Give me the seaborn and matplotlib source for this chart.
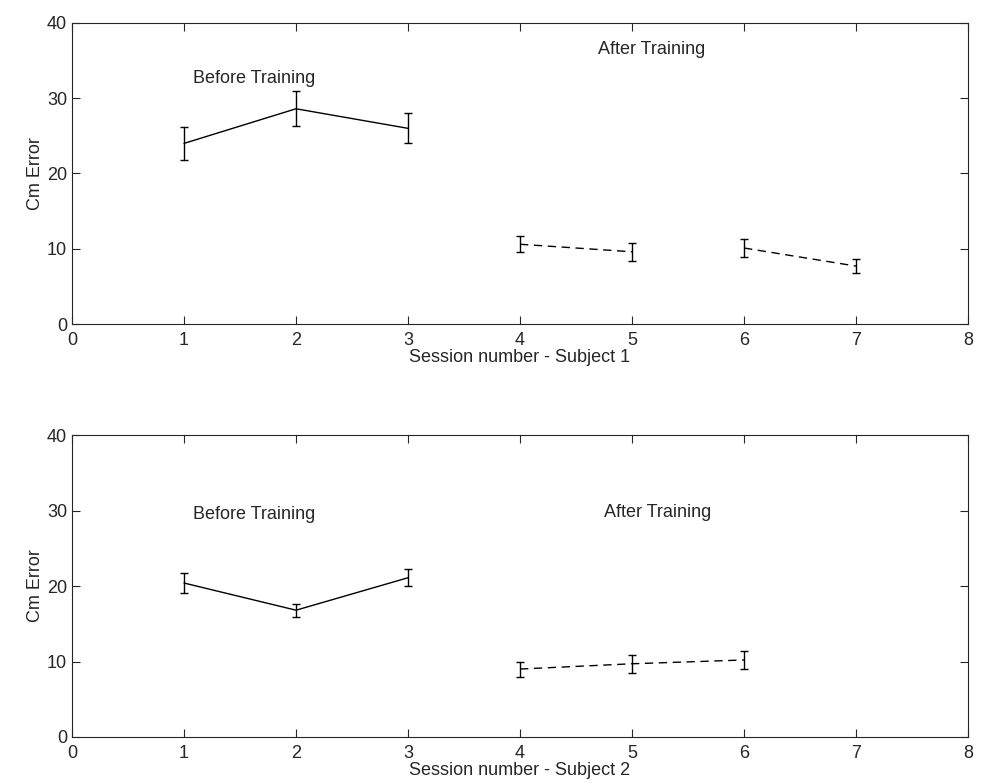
import numpy as np
import pandas as pd
import matplotlib
matplotlib.use("Agg")
import matplotlib.pyplot as plt
import seaborn as sns

# Subject 1
s1_session = [1, 2, 3, 4, 5, 6, 7]
s1_error = [24.0, 28.6, 26.0, 10.6, 9.6, 10.1, 7.7]
s1_sd = [2.2, 2.3, 2.0, 1.05, 1.2, 1.2, 0.9]
s1_segment = ['before', 'before', 'before', 'after1', 'after1', 'after2', 'after2']

# Subject 2
s2_session = [1, 2, 3, 4, 5, 6]
s2_error = [20.4, 16.8, 21.1, 9.0, 9.7, 10.2]
s2_sd = [1.3, 0.85, 1.15, 1.0, 1.2, 1.2]
s2_segment = ['before', 'before', 'before', 'after1', 'after1', 'after1']

xlabels = ['Session number - Subject 1', 'Session number - Subject 2']
before_pos = [(1.08, 32.6), (1.08, 29.5)]
after_pos = [(4.7, 36.5), (4.75, 29.8)]

sns.set_style("ticks")
plt.rcParams['font.family'] = ['Liberation Sans', 'DejaVu Sans']


def draw_panel(ax, session, error, sd, segment, xlabel, bpos, apos):
    df = pd.DataFrame({'session': session, 'error': error, 'sd': sd, 'segment': segment})
    for seg, part in df.groupby('segment', sort=False):
        ls = '-' if seg == 'before' else (0, (6, 4))
        sns.lineplot(data=part, x='session', y='error', ax=ax, color='black',
                     linewidth=1.0, linestyle=ls, legend=False)
        ax.errorbar(part['session'], part['error'], yerr=part['sd'], fmt='none',
                    ecolor='black', elinewidth=1.0, capsize=3, capthick=1.0)
    ax.set_xlim(0, 8)
    ax.set_ylim(0, 40)
    ax.set_xticks(range(0, 9))
    ax.set_yticks([0, 10, 20, 30, 40])
    ax.tick_params(direction='in', top=True, right=True, labelsize=13, length=6, width=0.8)
    ax.tick_params(axis='x', pad=6)
    ax.set_xlabel(xlabel, fontsize=13, labelpad=0)
    ax.set_ylabel('Cm Error', fontsize=13, labelpad=2)
    for sp in ax.spines.values():
        sp.set_linewidth(0.8)
    ax.text(bpos[0], bpos[1], 'Before Training', fontsize=13, va='center')
    ax.text(apos[0], apos[1], 'After Training', fontsize=13, va='center')


fig = plt.figure(figsize=(9.96, 7.84), dpi=100)
ax1 = fig.add_axes([0.0723, 0.5867, 0.8996, 0.384])
ax2 = fig.add_axes([0.0723, 0.06, 0.8996, 0.385])

draw_panel(ax1, s1_session, s1_error, s1_sd, s1_segment, xlabels[0], before_pos[0], after_pos[0])
draw_panel(ax2, s2_session, s2_error, s2_sd, s2_segment, xlabels[1], before_pos[1], after_pos[1])

fig.savefig('out.png', dpi=100)
